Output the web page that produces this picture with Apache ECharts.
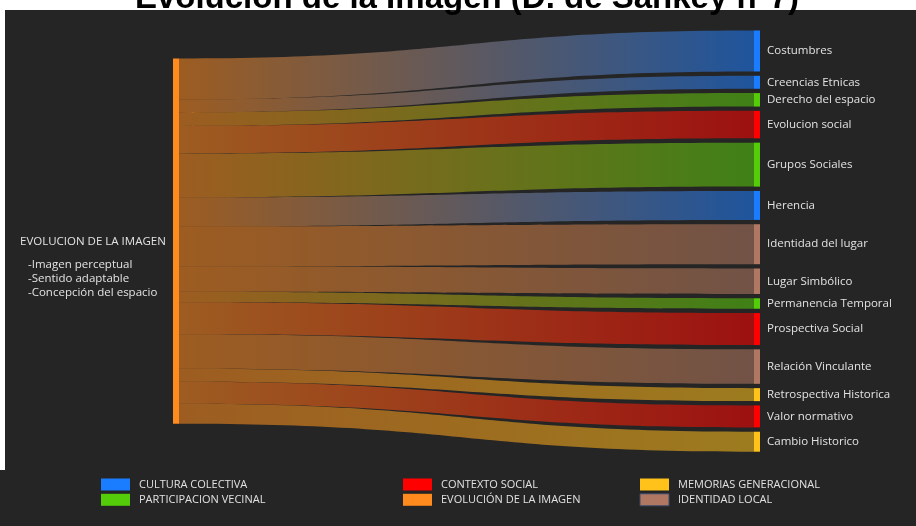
<!DOCTYPE html>
<html>
<head>
<meta charset="utf-8">
<script src="https://cdn.jsdelivr.net/npm/echarts@6/dist/echarts.min.js"></script>
<style>html,body{margin:0;padding:0;background:#fff;}#chart{width:916px;height:526px;}</style>
</head>
<body>
<div id="chart"></div>
<script>
const titleText = 'Evolución de la Imagen (D. de Sankey n°7)';
const sourceName = 'EVOLUCION DE LA IMAGEN';
const sourceLines = ['-Imagen perceptual', '-Sentido adaptable', '-Concepción del espacio'];
const targets = ['Costumbres', 'Creencias Etnicas', 'Derecho del espacio', 'Evolucion social', 'Grupos Sociales', 'Herencia', 'Identidad del lugar', 'Lugar Simbólico', 'Permanencia Temporal', 'Prospectiva Social', 'Relación Vinculante', 'Retrospectiva Historica', 'Valor normativo', 'Cambio Historico'];
const values = [41, 13, 13.5, 27.5, 44, 29, 40, 25.5, 10.5, 32, 34.5, 13, 22, 20];
const targetGroups = ['cul', 'cul', 'par', 'con', 'par', 'cul', 'ide', 'ide', 'par', 'con', 'ide', 'mem', 'con', 'mem'];
const groupKeys = ['cul', 'par', 'con', 'evo', 'mem', 'ide'];
const groupLabels = ['CULTURA COLECTIVA', 'PARTICIPACION VECINAL', 'CONTEXTO SOCIAL', 'EVOLUCIÓN DE LA IMAGEN', 'MEMORIAS GENERACIONAL', 'IDENTIDAD LOCAL'];
const groupColors = ['#1a7cff', '#55cc0a', '#ff0000', '#ff8a1e', '#ffc21a', '#b07862'];

const colorOf = k => groupColors[groupKeys.indexOf(k)];
const FONT = '"Open Sans", "Segoe UI", sans-serif';
const TXT = '#e2e2e2';

// layout box of the sankey
const SK = { left: 173, right: 156, top: 30.5, bottom: 74.3, gap: 4.3 };
const skHeight = 526 - SK.top - SK.bottom;
// centre the single source node against the target column (its height = column height minus gaps)
const srcLocalY = ((targets.length - 1) * SK.gap / 2) / skHeight;

const nodes = [{ name: sourceName, localY: srcLocalY, itemStyle: { color: colorOf('evo') }, label: { show: false } }]
  .concat(targets.map((t, i) => ({ name: t, itemStyle: { color: colorOf(targetGroups[i]) } })));
const links = targets.map((t, i) => ({ source: sourceName, target: t, value: values[i] }));

const graphics = [
  { type: 'rect', shape: { x: 0, y: 0, width: 916, height: 10 }, style: { fill: '#fff' }, z: 0 },
  { type: 'rect', shape: { x: 0, y: 0, width: 5, height: 470 }, style: { fill: '#fff' }, z: 0 },
  { type: 'text', x: 467, y: -1.5, z: 10, style: { text: titleText, fill: '#000', font: 'bold 33px "Liberation Sans", Arial, sans-serif', align: 'center', verticalAlign: 'middle' } },
  { type: 'text', x: 20, y: 242, z: 10, style: { text: sourceName, fill: TXT, font: '11.5px ' + FONT, align: 'left', verticalAlign: 'middle' } }
];
sourceLines.forEach((s, i) => {
  graphics.push({ type: 'text', x: 28, y: 264.5 + i * 14.2, z: 10, style: { text: s, fill: TXT, font: '11.5px ' + FONT, align: 'left', verticalAlign: 'middle' } });
});
const legendX = [101, 403, 640];
groupLabels.forEach((lab, i) => {
  const col = Math.floor(i / 2), row = i % 2;
  const x = legendX[col], y = 478.5 + row * 15.3;
  graphics.push({ type: 'rect', z: 10, shape: { x: x, y: y, width: 29, height: 12 }, style: { fill: groupColors[i], stroke: groupKeys[i] === 'ide' ? '#3c4a6e' : null, lineWidth: 1 } });
  graphics.push({ type: 'text', z: 10, x: x + 38, y: y + 6, style: { text: lab, fill: TXT, font: '11px ' + FONT, align: 'left', verticalAlign: 'middle' } });
});

const chart = echarts.init(document.getElementById('chart'));
chart.setOption({
  backgroundColor: '#252525',
  animation: false,
  graphic: graphics,
  series: [{
    type: 'sankey',
    left: SK.left, right: SK.right, top: SK.top, bottom: SK.bottom,
    nodeWidth: 6,
    nodeGap: SK.gap,
    nodeAlign: 'left',
    layoutIterations: 0,
    draggable: false,
    emphasis: { disabled: true },
    data: nodes,
    links: links,
    itemStyle: { borderWidth: 0 },
    lineStyle: { color: 'gradient', opacity: 0.55, curveness: 0.5 },
    label: { show: true, position: 'right', distance: 7, color: TXT, fontSize: 11.5, fontFamily: FONT }
  }]
});
</script>
</body>
</html>
